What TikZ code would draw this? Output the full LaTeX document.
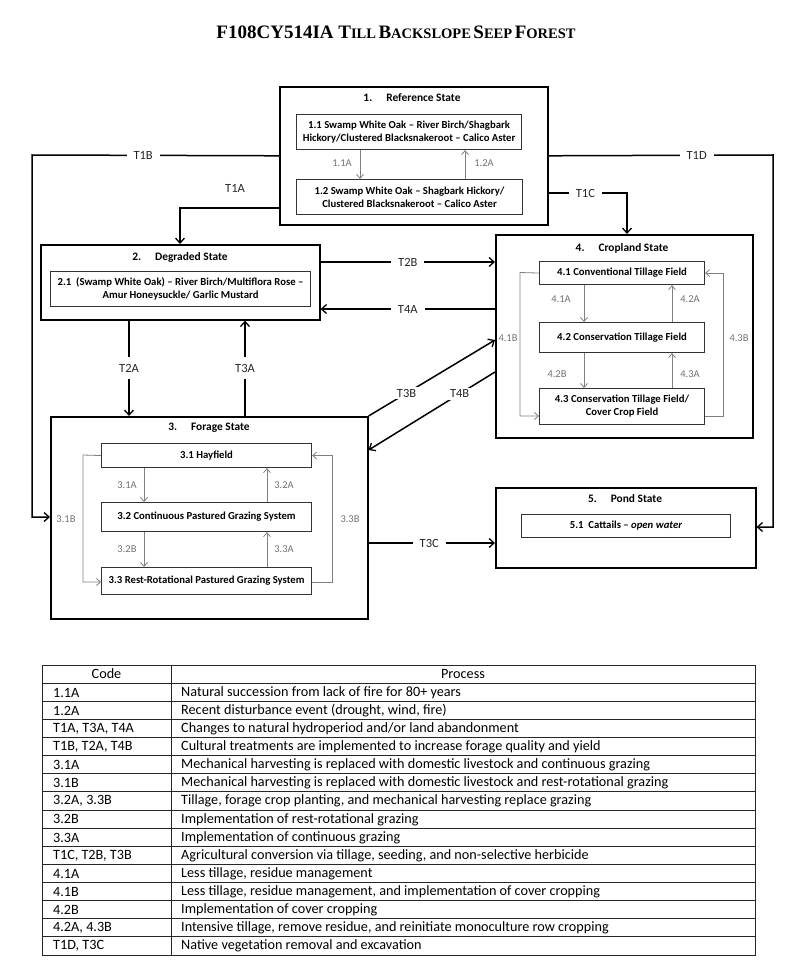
\documentclass[tikz,border=0pt]{standalone}
\usepackage{fontspec}
\setmainfont{Carlito}
\newfontfamily\titlefont{Liberation Serif}
\usetikzlibrary{arrows.meta,calc}
\newcommand\bigc[1]{{\fontsize{19}{20}\selectfont #1}}
\newcommand\smc[1]{{\fontsize{14.5}{20}\selectfont #1}}
\begin{document}
\begin{tikzpicture}[x=1pt,y=-1pt,
  statebox/.style={draw=black,line width=1.6pt,anchor=north west,inner sep=0pt},
  innerbox/.style={draw=black!80,line width=1.1pt,anchor=north west,inner sep=0pt,
    font=\fontsize{10.7}{13}\selectfont\bfseries,align=center},
  stitle/.style={font=\fontsize{11.4}{13}\selectfont\bfseries,inner sep=0pt},
  trans/.style={draw=black,line width=1.5pt,-{Straight Barb[length=5pt,width=9pt,line width=1.3pt]}},
  tlab/.style={font=\fontsize{12.5}{14}\selectfont,text=black!85,fill=white,inner xsep=7pt,inner ysep=2pt},
  inarrow/.style={draw=black!50,line width=0.8pt,-{Straight Barb[length=4pt,width=7pt,line width=0.8pt]}},
  ilab/.style={font=\fontsize{10.5}{11}\selectfont,text=black!55,inner sep=1pt},
  cell/.style={font=\fontsize{14.2}{15}\selectfont,anchor=west,inner sep=0pt},
  hcell/.style={font=\fontsize{14.2}{15}\selectfont,inner sep=0pt}
]
\useasboundingbox (0,0) rectangle (800,976);
\fill[white] (0,0) rectangle (800,976);

% title
\node[font=\titlefont\bfseries,inner sep=0pt] (title) at (396,32)
  {\bigc{F108CY514IA T}\smc{ILL} \bigc{B}\smc{ACKSLOPE} \bigc{S}\smc{EEP} \bigc{F}\smc{OREST}};

% state boxes
\node[statebox,minimum width=268pt,minimum height=138pt] (ref) at (279,86) {};
\node[statebox,minimum width=279pt,minimum height=75pt] (deg) at (40,244) {};
\node[statebox,minimum width=257pt,minimum height=203pt] (crop) at (495,234) {};
\node[statebox,minimum width=317pt,minimum height=202pt] (forage) at (50,416) {};
\node[statebox,minimum width=260pt,minimum height=80pt] (pond) at (495,487) {};

% state titles
\node[stitle] (reft) at (412,98) {1.\hspace{14pt}Reference State};
\node[stitle] (degt) at (180,257) {2.\hspace{14pt}Degraded State};
\node[stitle] (cropt) at (622,248) {4.\hspace{14pt}Cropland State};
\node[stitle] (foraget) at (209,428) {3.\hspace{14pt}Forage State};
\node[stitle] (pondt) at (625,499) {5.\hspace{14pt}Pond State};

% community boxes
\node[innerbox,minimum width=225pt,minimum height=35pt] (r11) at (296,114)
  {1.1 Swamp White Oak -- River Birch/Shagbark\\Hickory/Clustered Blacksnakeroot -- Calico Aster};
\node[innerbox,minimum width=226pt,minimum height=35pt] (r12) at (296,179)
  {1.2 Swamp White Oak -- Shagbark Hickory/\\Clustered Blacksnakeroot -- Calico Aster};
\node[innerbox,minimum width=260pt,minimum height=35pt] (d21) at (50,271)
  {2.1\ \ (Swamp White Oak) -- River Birch/Multiflora Rose --\\Amur Honeysuckle/ Garlic Mustard};
\node[innerbox,minimum width=165pt,minimum height=23pt] (c41) at (539,261) {4.1 Conventional Tillage Field};
\node[innerbox,minimum width=165pt,minimum height=30pt] (c42) at (539,322) {4.2 Conservation Tillage Field};
\node[innerbox,minimum width=165pt,minimum height=36pt] (c43) at (539,388)
  {4.3 Conservation Tillage Field/\\Cover Crop Field};
\node[innerbox,minimum width=210pt,minimum height=24pt] (f31) at (101,443) {3.1 Hayfield};
\node[innerbox,minimum width=210pt,minimum height=29pt] (f32) at (101,502) {3.2 Continuous Pastured Grazing System};
\node[innerbox,minimum width=210pt,minimum height=27pt] (f33) at (101,567) {3.3 Rest-Rotational Pastured Grazing System};
\node[innerbox,minimum width=209pt,minimum height=23pt] (p51) at (521,514) {5.1\ \ Cattails -- \textit{open water}};

% within-state pathways
\draw[inarrow] (r11.south -| 360,0) -- (r12.north -| 360,0);
\draw[inarrow] (r12.north -| 465,0) -- (r11.south -| 465,0);
\node[ilab] (l11a) at (342,163) {1.1A};
\node[ilab] (l12a) at (484,163) {1.2A};

\draw[inarrow] (c41.south -| 584,0) -- (c42.north -| 584,0);
\draw[inarrow] (c42.north -| 672,0) -- (c41.south -| 672,0);
\draw[inarrow] (c42.south -| 584,0) -- (c43.north -| 584,0);
\draw[inarrow] (c43.north -| 672,0) -- (c42.south -| 672,0);
\draw[inarrow] (c41.west) -- (520,272.5) |- (c43.west |- 0,416);
\draw[inarrow] (c43.east |- 0,416) -- (723,416) |- (c41.east);
\node[ilab] (l41a) at (561,299) {4.1A};
\node[ilab] (l42a) at (690,299) {4.2A};
\node[ilab] (l42b) at (557,374) {4.2B};
\node[ilab] (l43a) at (690,374) {4.3A};
\node[ilab] (l41b) at (508,338) {4.1B};
\node[ilab] (l43b) at (739,338) {4.3B};

\draw[inarrow] (f31.south -| 144,0) -- (f32.north -| 144,0);
\draw[inarrow] (f32.north -| 267,0) -- (f31.south -| 267,0);
\draw[inarrow] (f32.south -| 144,0) -- (f33.north -| 144,0);
\draw[inarrow] (f33.north -| 267,0) -- (f32.south -| 267,0);
\draw[inarrow] (f31.west) -- (83,455) |- (f33.west |- 0,582);
\draw[inarrow] (f33.east |- 0,582) -- (332,582) |- (f31.east);
\node[ilab] (l31a) at (127,485) {3.1A};
\node[ilab] (l32a) at (284,485) {3.2A};
\node[ilab] (l32b) at (127,549) {3.2B};
\node[ilab] (l33a) at (284,549) {3.3A};
\node[ilab] (l31b) at (66,519) {3.1B};
\node[ilab] (l33b) at (350,519) {3.3B};

% transitions
\draw[trans] (ref.west) -- node[tlab,pos=0.55] {T1B} (32,155) |- (forage.west |- 0,517);
\draw[trans] (ref.east) -- node[tlab,pos=0.66] {T1D} (773,155) |- (pond.east |- 0,527);
\draw[trans] (ref.west |- 0,208) -| (deg.north -| 180,0);
\node[tlab,fill=none] (t1a) at (235,188) {T1A};
\draw[trans] (ref.east |- 0,193) -- node[tlab,pos=0.47] {T1C} (627,193) -- (crop.north -| 627,0);
\draw[trans] (deg.east |- 0,262) -- node[tlab] {T2B} (crop.west |- 0,262);
\draw[trans] (crop.west |- 0,309) -- node[tlab] {T4A} (deg.east |- 0,309);
\draw[trans] (deg.south -| 129,0) -- node[tlab,inner xsep=2pt,inner ysep=7pt] {T2A} (forage.north -| 129,0);
\draw[trans] (forage.north -| 245,0) -- node[tlab,inner xsep=2pt,inner ysep=7pt] {T3A} (deg.south -| 245,0);
\draw[trans] (forage.north east) -- node[tlab,pos=0.3,inner xsep=3pt] {T3B} (crop.west |- 0,340);
\draw[trans] (crop.west |- 0,372) -- node[tlab,pos=0.28,inner xsep=3pt] {T4B} (forage.east |- 0,450);
\draw[trans] (forage.east |- 0,543) -- node[tlab,pos=0.48] {T3C} (pond.west |- 0,543);

% table
\draw[line width=0.9pt,black!85] (42,665) rectangle (755,955);
\draw[line width=0.9pt,black!85] (171,665) -- (171,955);
\foreach \i in {1,...,15} {
  \draw[line width=0.9pt,black!85] (42,665+18.125*\i) -- (755,665+18.125*\i);
}
\node[hcell] (hcode) at (106.5,674) {Code};
\node[hcell] (hproc) at (463,674) {Process};
\foreach [count=\i] \c/\p in {
  {1.1A}/{Natural succession from lack of fire for 80+ years},
  {1.2A}/{Recent disturbance event (drought, wind, fire)},
  {T1A, T3A, T4A}/{Changes to natural hydroperiod and\slash or land abandonment},
  {T1B, T2A, T4B}/{Cultural treatments are implemented to increase forage quality and yield},
  {3.1A}/{Mechanical harvesting is replaced with domestic livestock and continuous grazing},
  {3.1B}/{Mechanical harvesting is replaced with domestic livestock and rest-rotational grazing},
  {3.2A, 3.3B}/{Tillage, forage crop planting, and mechanical harvesting replace grazing},
  {3.2B}/{Implementation of rest-rotational grazing},
  {3.3A}/{Implementation of continuous grazing},
  {T1C, T2B, T3B}/{Agricultural conversion via tillage, seeding, and non-selective herbicide},
  {4.1A}/{Less tillage, residue management},
  {4.1B}/{Less tillage, residue management, and implementation of cover cropping},
  {4.2B}/{Implementation of cover cropping},
  {4.2A, 4.3B}/{Intensive tillage, remove residue, and reinitiate monoculture row cropping},
  {T1D, T3C}/{Native vegetation removal and excavation}} {
  \node[cell] (code\i) at (53,665+18.125*\i+9.4) {\c};
  \node[cell] (proc\i) at (181,665+18.125*\i+9.4) {\p};
}
\end{tikzpicture}
\end{document}
